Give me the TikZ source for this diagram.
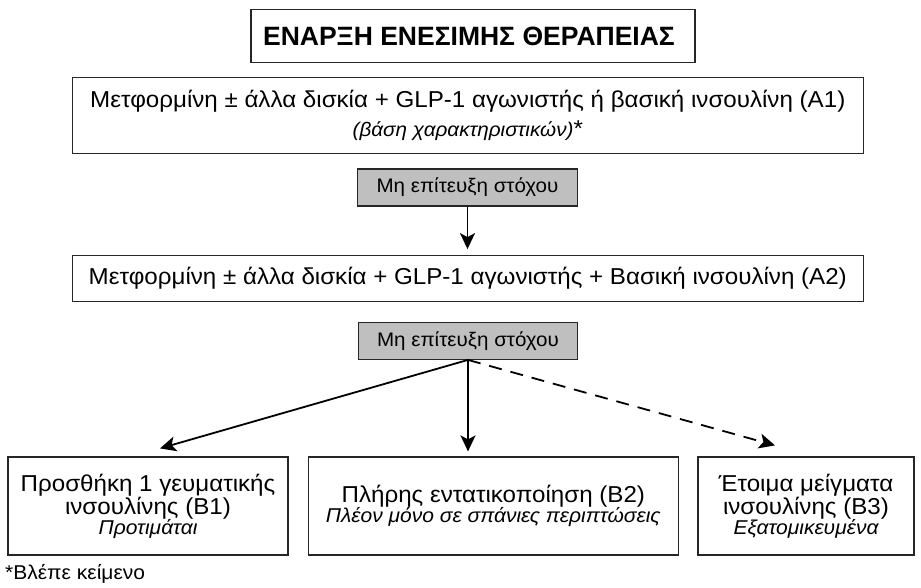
\documentclass[tikz,border=0pt]{standalone}
\usepackage{fontspec}
\setmainfont{Liberation Sans}
\newfontfamily\widesans{Liberation Sans}[FakeStretch=1.05]
\usetikzlibrary{arrows.meta,calc}
\begin{document}
\begin{tikzpicture}[x=1pt,y=-1pt,
  box/.style={draw=black!85,line width=1.2pt,fill=white,inner sep=0pt,align=center,
    font=\widesans\fontsize{23}{20}\selectfont},
  graybox/.style={box,fill=gray!50,font=\widesans\fontsize{19.6}{20}\selectfont},
  arr/.style={line width=1.8pt,-{Stealth[length=16pt,width=15pt,inset=4pt]}}]
\useasboundingbox (0,0) rectangle (921,587);
\node[box,minimum width=444pt,minimum height=53.4pt,font=\fontsize{26.5}{28}\selectfont\bfseries]
  (title) at (473,36) {ΕΝΑΡΞΗ ΕΝΕΣΙΜΗΣ ΘΕΡΑΠΕΙΑΣ\hspace*{8pt}};
\node[box,minimum width=791pt,minimum height=76pt,font=\widesans\fontsize{23}{29}\selectfont] (A1) at (467.8,115.7)
  {Μετφορμίνη ± άλλα δισκία + GLP-1 αγωνιστής ή βασική ινσουλίνη (A1)\\
   {\fontsize{19.7}{29}\selectfont\itshape (βάση χαρακτηριστικών)}*};
\node[graybox,minimum width=220.4pt,minimum height=37pt] (g1) at (467.5,187.5) {Μη επίτευξη στόχου};
\node[box,minimum width=791pt,minimum height=46pt] (A2) at (467.8,278.7)
  {Μετφορμίνη ± άλλα δισκία + GLP-1 αγωνιστής + Βασική ινσουλίνη (A2)};
\node[graybox,minimum width=219.4pt,minimum height=36.6pt] (g2) at (468,341) {Μη επίτευξη στόχου};
\node[box,minimum width=280pt,minimum height=98pt] (B1) at (148,506)
  {Προσθήκη 1 γευματικής\\ινσουλίνης (B1)\\{\fontsize{20}{20}\selectfont\itshape Προτιμάται}};
\node[box,minimum width=370pt,minimum height=98pt] (B2) at (493.3,506)
  {Πλήρης εντατικοποίηση (B2)\\{\fontsize{20}{20}\selectfont\itshape Πλέον μόνο σε σπάνιες περιπτώσεις}};
\node[box,minimum width=216pt,minimum height=98pt] (B3) at (806,506)
  {Έτοιμα μείγματα\\ινσουλίνης (B3)\\{\fontsize{20}{20}\selectfont\itshape Εξατομικευμένα}};
\node[anchor=base west,inner sep=0pt,font=\widesans\fontsize{20}{20}\selectfont] (fn) at (5,579) {*Βλέπε κείμενο};
\draw[arr] (g1.south) -- ($(g1.south |- A2.north)+(0,-6)$);
\draw[arr] (g2.south) -- ($(B1.north)+(12,-8)$);
\draw[arr] (g2.south) -- ($(g2.south |- B2.north)+(0,-5)$);
\draw[arr,dash pattern=on 13pt off 9pt] (g2.south) -- ($(B3.north)+(-31,-11)$);
\end{tikzpicture}
\end{document}
